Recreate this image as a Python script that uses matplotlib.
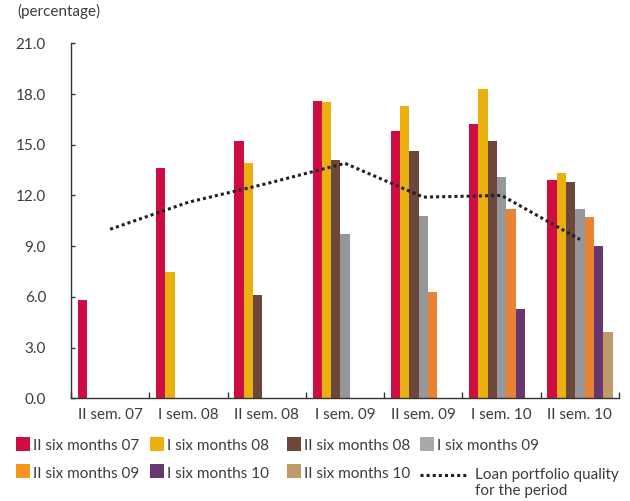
import matplotlib
matplotlib.use('Agg')
import matplotlib.pyplot as plt
from matplotlib.patches import Rectangle
from matplotlib.lines import Line2D
import numpy as np

plt.rcParams['font.family'] = ['Lato', 'DejaVu Sans']
plt.rcParams['font.size'] = 11
TEXT = '#3c3c3c'

# Periods on the x axis
periods = ['II sem. 07', 'I sem. 08', 'II sem. 08', 'I sem. 09',
           'II sem. 09', 'I sem. 10', 'II sem. 10']

# Vintage series (None = no bar)
series_names = ['II six months 07', 'I six months 08', 'II six months 08',
                'I six months 09', 'II six months 09', 'I six months 10',
                'II six months 10']
series_colors = ['#ce0e43', '#eab010', '#6d473b', '#95979a',
                 '#e98232', '#67376d', '#bd9a66']
legend_colors = ['#ce0e43', '#eab010', '#6d473b', '#a7a9ac',
                 '#f7941e', '#67376d', '#bd9a66']

ii07 = [5.8, 13.6, 15.2, 17.6, 15.8, 16.2, 12.9]
i08 = [None, 7.5, 13.9, 17.5, 17.3, 18.3, 13.3]
ii08 = [None, None, 6.1, 14.1, 14.6, 15.2, 12.8]
i09 = [None, None, None, 9.7, 10.8, 13.1, 11.2]
ii09 = [None, None, None, None, 6.3, 11.2, 10.7]
i10 = [None, None, None, None, None, 5.3, 9.0]
ii10 = [None, None, None, None, None, None, 3.9]
series_values = [ii07, i08, ii08, i09, ii09, i10, ii10]

# Loan portfolio quality for the period
quality = [10.0, 11.6, 12.7, 13.9, 11.9, 12.0, 9.4]

fig = plt.figure(figsize=(6.3, 5.01), dpi=100)
ax = fig.add_axes([71 / 630, 1 - 398.3 / 501, 548 / 630, 355 / 501])

bar_w = 0.119
offset = 0.085
for i, (vals, col) in enumerate(zip(series_values, series_colors)):
    xs = [g + offset + i * bar_w for g, v in enumerate(vals) if v is not None]
    hs = [v for v in vals if v is not None]
    ax.bar(xs, hs, width=bar_w, align='edge', color=col, linewidth=0)

centers = np.arange(len(periods)) + 0.5
ax.plot(centers, quality, color='#231f20', lw=2.2, linestyle=(0, (1, 1)),
        dash_capstyle='butt')

ax.set_xlim(0, len(periods))
ax.set_ylim(0, 21)
ax.set_yticks(np.arange(0, 22, 3))
ax.set_yticklabels([f'{v:.1f}' for v in np.arange(0, 22, 3)])
ax.set_xticks(np.arange(0, len(periods) + 1))
ax.set_xticklabels([])
ax.set_xticks(centers, minor=True)
ax.set_xticklabels(periods, minor=True)
ax.tick_params(axis='x', which='major', direction='in', length=4,
               width=1, color='#333333')
ax.tick_params(axis='x', which='minor', length=0, pad=7, colors=TEXT,
               labelsize=11)
ax.tick_params(axis='y', direction='in', length=3, width=1,
               color='#333333', pad=18, labelcolor=TEXT, labelsize=11)
for s in ['top', 'right']:
    ax.spines[s].set_visible(False)
for s in ['left', 'bottom']:
    ax.spines[s].set_color('#333333')
    ax.spines[s].set_linewidth(1)

fig.text(17 / 630, 1 - 4 / 501, '(percentage)', ha='left', va='top',
         color=TEXT, fontsize=11)

# Legend laid out by hand: 4 columns, 2 rows
col_x = [16, 150, 287, 420]
row_y = [437, 464]
W, H = 630, 501
for i, (name, col) in enumerate(zip(series_names, legend_colors)):
    r, c = divmod(i, 4)
    x0, y0 = col_x[c], row_y[r]
    fig.add_artist(Rectangle((x0 / W, 1 - (y0 + 14) / H), 14 / W, 14 / H,
                             transform=fig.transFigure, color=col, lw=0))
    fig.text((x0 + 17) / W, 1 - (y0 + 13.5) / H, name, ha='left',
             va='baseline', color=TEXT, fontsize=11)

fig.add_artist(Line2D([420 / W, 468 / W], [1 - 475 / H, 1 - 475 / H],
                      transform=fig.transFigure, color='#231f20', lw=2.2,
                      linestyle=(0, (1, 1))))
fig.text(475 / W, 1 - 479 / H, 'Loan portfolio quality', ha='left',
         va='baseline', color=TEXT, fontsize=11)
fig.text(475 / W, 1 - 495 / H, 'for the period', ha='left',
         va='baseline', color=TEXT, fontsize=11)

fig.savefig('out.png', dpi=100)
